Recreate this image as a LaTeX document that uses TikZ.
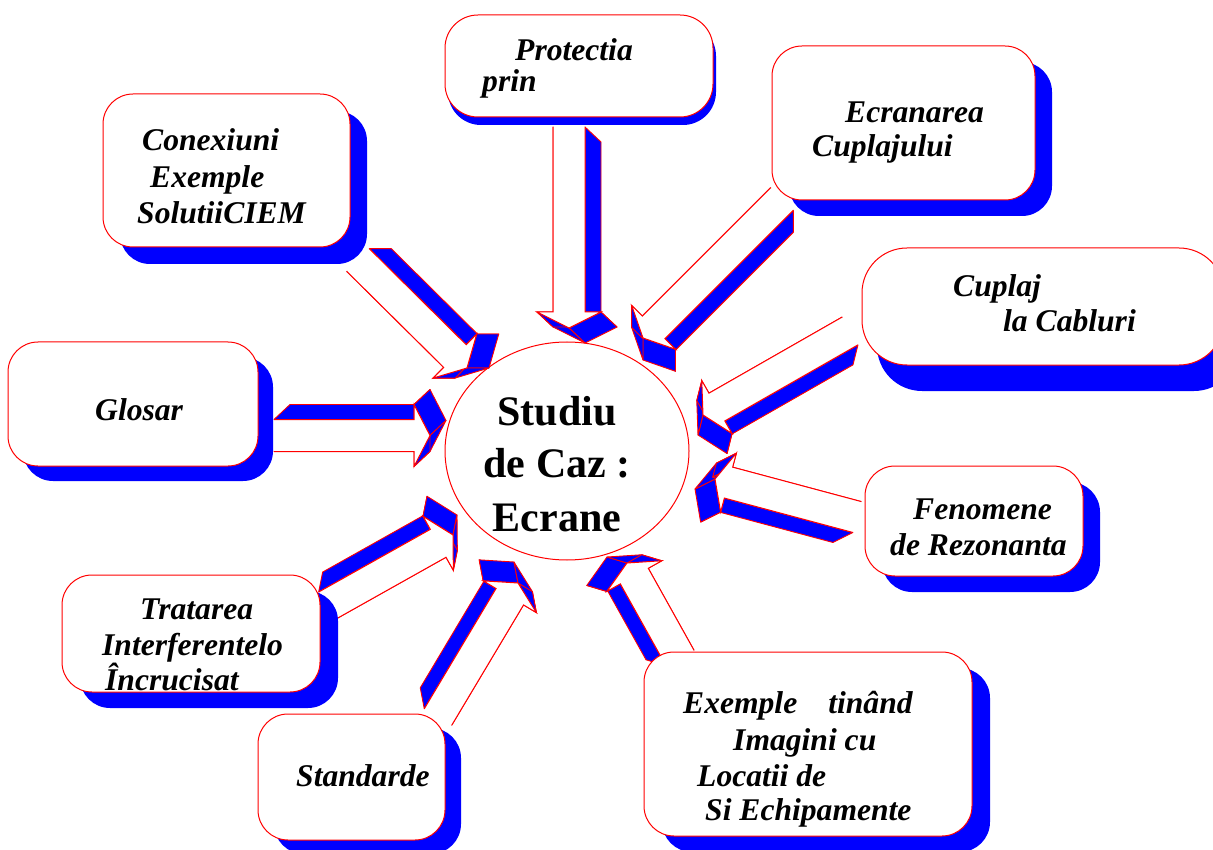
\documentclass[tikz,border=0pt]{standalone}
\usepackage{fontspec}
\setmainfont{Liberation Serif}
\usetikzlibrary{calc,fit,shapes.geometric}
\definecolor{myred}{RGB}{255,0,0}
\definecolor{myblue}{RGB}{0,0,255}
\tikzset{
  side/.style={fill=myblue,draw=myred,line width=0.9pt,line join=round},
  face/.style={fill=white},
  edge/.style={draw=myred,line width=1pt,line join=miter},
  boxface/.style={fill=white,draw=myred,line width=1pt},
  boxshadow/.style={fill=myblue},
  lab/.style={inner sep=0pt,anchor=base west,font=\bfseries\itshape\fontsize{31.6}{31.6}\selectfont},
  hubtext/.style={inner sep=0pt,anchor=base,font=\bfseries\fontsize{42}{42}\selectfont},
  hub/.style={ellipse,draw=myred,fill=white,line width=1pt,inner sep=0pt,minimum width=244pt,minimum height=218pt}
}
% Tx,Ty,Hx,Hy,headlength,headhalfwidth,dx,dy
\newcommand{\blockarrow}[8]{%
  \coordinate (T) at (#1,#2);
  \coordinate (H) at (#3,#4);
  \coordinate (B) at ($(H)!#5pt!(T)$);
  \coordinate (p1) at ($(T)!16pt!90:(H)$);
  \coordinate (p2) at ($(B)!16pt!90:(H)$);
  \coordinate (p3) at ($(B)!#6pt!90:(H)$);
  \coordinate (p4) at (H);
  \coordinate (p5) at ($(B)!#6pt!-90:(H)$);
  \coordinate (p6) at ($(B)!16pt!-90:(H)$);
  \coordinate (p7) at ($(T)!16pt!-90:(H)$);
  \foreach \pa/\pb in {p1/p2,p2/p3,p3/p4,p4/p5,p5/p6,p6/p7}{
    \path[side] (\pa) -- (\pb) -- ($(\pb)+(#7,#8)$) -- ($(\pa)+(#7,#8)$) -- cycle;}
  \path[face] (p1)--(p2)--(p3)--(p4)--(p5)--(p6)--(p7)--cycle;
  \draw[edge] (p7)--(p6)--(p5)--(p4)--(p3)--(p2)--(p1);
}
% name,x1,y1,x2,y2,dx,dy,radius
\newcommand{\tbox}[8]{%
  \path[boxshadow,rounded corners=#8pt] ($(#2,#3)+(#6,#7)$) rectangle ($(#4,#5)+(#6,#7)$);
  \path[boxface,rounded corners=#8pt] (#2,#3) rectangle (#4,#5);
  \node[inner sep=0pt,fit={(#2,#3) (#4,#5)}] (#1) {};
}
\begin{document}
\begin{tikzpicture}[x=1pt,y=-1pt]
\useasboundingbox (0,0) rectangle (1213,850);
\fill[white] (0,0) rectangle (1213,850);

% central hub
\node[hub] (hub) at (567,451) {};
\node[hubtext] (h1) at (557,425) {Studiu};
\node[hubtext] (h2) at (557,477) {de Caz :};
\node[hubtext] (h3) at (557,531) {Ecrane};

% block arrows
\blockarrow{274}{435.5}{430}{435.5}{16}{31}{16}{-15}
\blockarrow{358}{260}{467}{368}{17}{31}{22}{0}
\blockarrow{569}{127}{569}{328}{16}{32}{16}{15}
\blockarrow{782}{199}{643}{338}{15}{31}{0}{22}
\blockarrow{850}{331}{703}{415}{16}{30.5}{-5}{20}
\blockarrow{857}{517}{715}{479}{14}{30.5}{-20}{10}
\blockarrow{680}{658}{627}{563}{15}{31.5}{-20}{-6}
\blockarrow{438}{717}{518}{583}{16}{31}{-4}{-21}
\blockarrow{326.5}{606}{453}{535}{17}{31}{4}{-20}

% boxes
\tbox{prot}{445}{15}{713}{117}{3}{8}{33}
\tbox{ecr}{772}{46}{1035}{200}{17}{16}{30}
\tbox{conex}{103}{94}{350}{247}{17}{17}{30}
\tbox{cupl}{862}{248}{1224}{365}{15}{26}{45}
\tbox{glos}{8}{342}{258}{466}{15}{15}{30}
\tbox{fen}{865}{466}{1083}{576}{17}{16}{30}
\tbox{trat}{62}{575}{320}{692}{18}{16}{30}
\tbox{std}{258}{714}{445}{840}{16}{14}{30}
\tbox{ex}{644}{652}{972}{836}{18}{16}{30}

% labels
\node[lab] (t1a) at (515,61) {Protectia};
\node[lab] (t1b) at (482,92) {prin};
\node[lab] (t2a) at (845,123) {Ecranarea};
\node[lab] (t2b) at (812,157) {Cuplajului};
\node[lab] (t3a) at (142,151) {Conexiuni};
\node[lab] (t3b) at (150,188) {Exemple};
\node[lab] (t3c) at (137,224) {SolutiiCIEM};
\node[lab] (t4a) at (953,297) {Cuplaj};
\node[lab] (t4b) at (1003,331) {la Cabluri};
\node[lab] (t5a) at (95,420) {Glosar};
\node[lab] (t6a) at (913,519) {Fenomene};
\node[lab] (t6b) at (890,555) {de Rezonanta};
\node[lab] (t7a) at (140,619) {Tratarea};
\node[lab] (t7b) at (102,655) {Interferentelo};
\node[lab] (t7c) at (105,690) {Încrucisat};
\node[lab] (t8a) at (296,786) {Standarde};
\node[lab] (t9a) at (683,713) {Exemple\hspace{31pt}tinând};
\node[lab] (t9b) at (733,750) {Imagini cu};
\node[lab] (t9c) at (697,786) {Locatii de};
\node[lab] (t9d) at (705,820) {Si Echipamente};
\end{tikzpicture}
\end{document}
